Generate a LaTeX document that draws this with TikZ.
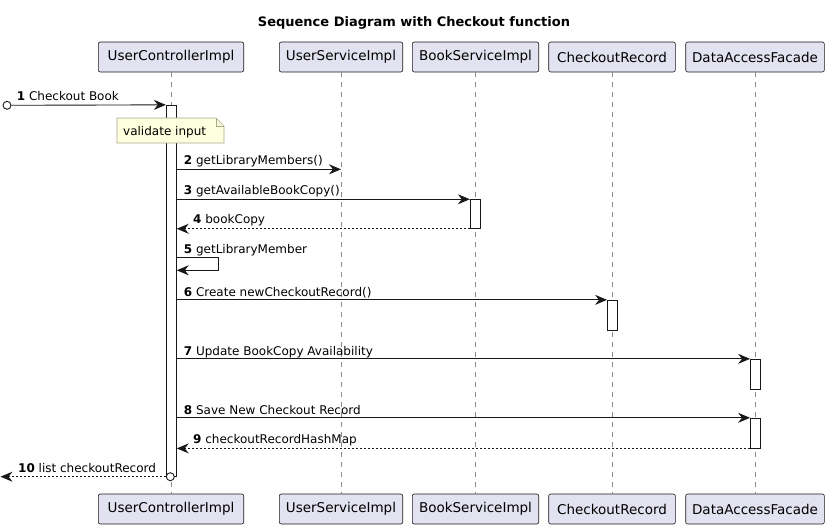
\documentclass[tikz,border=0pt]{standalone}
\usepackage{fontspec}
\setmainfont{DejaVu Sans}
\usetikzlibrary{arrows.meta}
\definecolor{partfill}{HTML}{E2E2F0}
\definecolor{partline}{HTML}{181818}
\definecolor{lifegray}{HTML}{8A8A8A}
\definecolor{notefill}{HTML}{FEFFDD}
\definecolor{noteline}{HTML}{A8A88A}
\tikzset{
  part/.style={draw=partline, fill=partfill, rounded corners=2pt, line width=0.6pt,
    minimum height=30pt, inner sep=0pt, font=\fontsize{13.5}{16}\selectfont},
  lifeline/.style={draw=lifegray, line width=0.6pt, dash pattern=on 5pt off 5pt},
  act/.style={draw=partline, fill=white, line width=0.9pt, minimum width=10pt, inner sep=0pt},
  tip/.style={-{Stealth[length=12pt,width=10pt,inset=4pt]}},
  msg/.style={draw=partline, line width=0.9pt, tip},
  ret/.style={draw=partline, line width=0.9pt, dash pattern=on 2pt off 2pt, tip},
  lbl/.style={anchor=base west, inner sep=0pt, font=\fontsize{12}{14}\selectfont},
}
\begin{document}
\begin{tikzpicture}[x=1pt,y=-1pt]
\useasboundingbox (0,0) rectangle (829,529);
\node[font=\bfseries\fontsize{13}{15}\selectfont] (title) at (414,23) {Sequence Diagram with Checkout function};

% participants top
\node[part, minimum width=145.4pt] (uct) at (171,57) {UserControllerImpl};
\node[part, minimum width=123.4pt] (ust) at (341,57) {UserServiceImpl};
\node[part, minimum width=126.4pt] (bst) at (475.5,57) {BookServiceImpl};
\node[part, minimum width=126.6pt] (crt) at (612,57) {CheckoutRecord};
\node[part, minimum width=138.6pt] (dat) at (755,57) {DataAccessFacade};
% participants bottom
\node[part, minimum width=145.4pt] (ucb) at (171,509) {UserControllerImpl};
\node[part, minimum width=123.4pt] (usb) at (341,509) {UserServiceImpl};
\node[part, minimum width=126.4pt] (bsb) at (475.5,509) {BookServiceImpl};
\node[part, minimum width=126.6pt] (crb) at (612,509) {CheckoutRecord};
\node[part, minimum width=138.6pt] (dab) at (755,509) {DataAccessFacade};

% lifelines
\draw[lifeline] (uct.south) -- (ucb.north);
\draw[lifeline] (ust.south) -- (usb.north);
\draw[lifeline] (bst.south) -- (bsb.north);
\draw[lifeline] (crt.south) -- (crb.north);
\draw[lifeline] (dat.south) -- (dab.north);

% activations
\node[act, minimum height=371.4pt] (a1) at (171.3,291) {};
\node[act, minimum height=28.6pt] (a2) at (475.3,214) {};
\node[act, minimum height=30.4pt] (a3) at (612.5,315.5) {};
\node[act, minimum height=30pt] (a4) at (755.5,374.3) {};
\node[act, minimum height=29.7pt] (a5) at (755.5,433.1) {};

% note
\draw[draw=noteline, fill=notefill, line width=0.6pt]
  (117,118) -- (216,118) -- (224,126) -- (224,143) -- (117,143) -- cycle;
\draw[draw=noteline, line width=0.6pt] (216,118) -- (216,126) -- (224,126);
\node[lbl] (note) at (123,135.5) {validate input};

% message 1
\coordinate (m1) at (0,105.3);
\node[draw=partline, fill=white, circle, line width=0.9pt, minimum size=8pt, inner sep=0pt] (start) at (7,105.3) {};
\draw[msg] (start.east) -- (a1.north west);
\node[lbl] (l1) at (16.7,101) {\textbf{1} Checkout Book};

% message 2
\coordinate (m2) at (0,169.3);
\draw[msg] (a1.east |- m2) -- (ust.south |- m2);
\node[lbl] (l2) at (183.7,165) {\textbf{2} getLibraryMembers()};

% message 3
\draw[msg] (a1.east |- a2.north) -- (a2.north west);
\node[lbl] (l3) at (183.7,195) {\textbf{3} getAvailableBookCopy()};

% message 4
\draw[ret] (a2.south west) -- (a1.east |- a2.south);
\node[lbl] (l4) at (193,224) {\textbf{4} bookCopy};

% message 5 (self)
\coordinate (m5a) at (218.3,257.3);
\coordinate (m5b) at (218.3,270.3);
\draw[msg] (a1.east |- m5a) -- (m5a) -- (m5b) -- (a1.east |- m5b);
\node[lbl] (l5) at (183.7,253) {\textbf{5} getLibraryMember};

% message 6
\draw[msg] (a1.east |- a3.north) -- (a3.north west);
\node[lbl] (l6) at (183.7,296) {\textbf{6} Create newCheckoutRecord()};

% message 7
\draw[msg] (a1.east |- a4.north) -- (a4.north west);
\node[lbl] (l7) at (183.7,355) {\textbf{7} Update BookCopy Availability};

% message 8
\draw[msg] (a1.east |- a5.north) -- (a5.north west);
\node[lbl] (l8) at (183.7,414) {\textbf{8} Save New Checkout Record};

% message 9
\draw[ret] (a5.south west) -- (a1.east |- a5.south);
\node[lbl] (l9) at (193,443.5) {\textbf{9} checkoutRecordHashMap};

% message 10
\node[draw=partline, fill=white, circle, line width=0.9pt, minimum size=8pt, inner sep=0pt] (endc) at (170.3,476.7) {};
\coordinate (m10) at (0.5,476.7);
\draw[ret] (endc.west) -- (m10);
\node[lbl] (l10) at (18,472.5) {\textbf{10} list checkoutRecord};
\end{tikzpicture}
\end{document}
